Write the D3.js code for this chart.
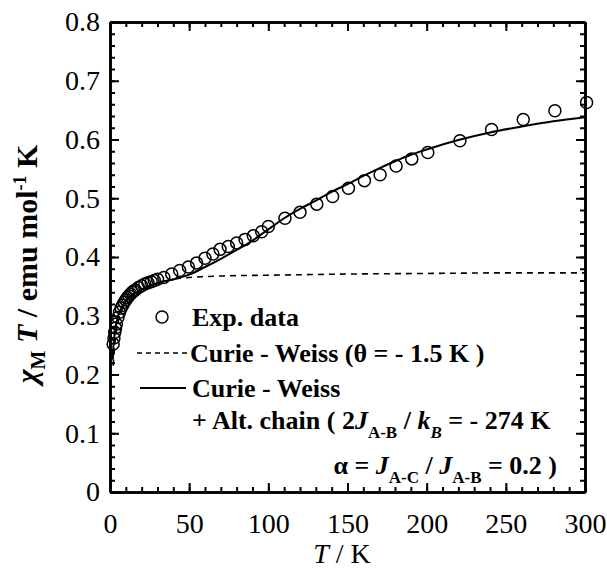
<!DOCTYPE html>
<html>
<head>
<meta charset="utf-8">
<script src="https://cdn.jsdelivr.net/npm/d3@7/dist/d3.min.js"></script>
</head>
<body style="margin:0">
<svg id="s" width="607" height="573" style="background:#fff"></svg>
<script>
// Measured chi_M T (emu mol^-1 K) versus temperature T (K)
const expT = [2, 2.5, 3, 3.5, 4, 5, 6, 7, 8, 9, 10, 11, 12, 13, 14, 15, 16, 18, 20, 22, 24, 26, 28, 30,
  34, 39, 44, 49.5, 54.7, 60, 65, 69.5, 74.7, 80, 85.3, 90.5, 95.8, 100,
  110.5, 120, 130.6, 140.6, 150.6, 160.7, 170.6, 180.7, 190.6, 200.7, 221, 241, 261, 281, 301];
const expChiT = [0.252, 0.262, 0.272, 0.279, 0.286, 0.297, 0.306, 0.313, 0.318, 0.323, 0.327, 0.331, 0.334, 0.337, 0.340, 0.342, 0.344, 0.348, 0.351, 0.354, 0.356, 0.358, 0.360, 0.362,
  0.365, 0.371, 0.377, 0.383, 0.390, 0.398, 0.405, 0.413, 0.418, 0.424, 0.430, 0.436, 0.443, 0.452,
  0.466, 0.476, 0.490, 0.503, 0.517, 0.530, 0.540, 0.555, 0.567, 0.578, 0.598, 0.617, 0.634, 0.649, 0.663];

// Curie-Weiss fit (theta = -1.5 K)
const cwT = [2, 3, 5, 10, 20, 30, 40, 50, 75, 100, 150, 200, 250, 300];
const cwChiT = [0.215, 0.250, 0.287, 0.322, 0.345, 0.355, 0.362, 0.365, 0.368, 0.369, 0.371, 0.372, 0.373, 0.373];

// Curie-Weiss + alternating chain fit
const fitT = [1.8, 2, 3, 4, 5, 6, 8, 10, 12, 15, 20, 25, 30, 40, 50, 60, 70, 80, 90, 100, 110, 120, 130,
  140, 150, 160, 170, 180, 190, 200, 220, 240, 260, 280, 300];
const fitChiT = [0.225, 0.240, 0.270, 0.287, 0.298, 0.306, 0.317, 0.325, 0.331, 0.337, 0.345, 0.351, 0.356, 0.362, 0.370, 0.383, 0.397, 0.412, 0.428, 0.447, 0.466, 0.482, 0.496,
  0.511, 0.524, 0.538, 0.551, 0.563, 0.574, 0.583, 0.599, 0.612, 0.622, 0.631, 0.638];

const xMajor = [0, 50, 100, 150, 200, 250, 300];
const xMinor = d3.range(0, 301, 10);
const yMajor = [0, 0.1, 0.2, 0.3, 0.4, 0.5, 0.6, 0.7, 0.8];
const yMinor = d3.range(0, 41).map(i => i * 0.02);

const svg = d3.select("#s");
const x = d3.scaleLinear().domain([0, 300]).range([110, 585]);
const y = d3.scaleLinear().domain([0, 0.8]).range([492, 22]);

const fmtY = d => d === 0 ? "0" : d3.format(".1f")(d);

// serif text helper
function serif(sel, size) {
  return sel.style("font-family", "'Liberation Serif'", "important").attr("font-size", size);
}

function styleAxis(g, width) {
  g.attr("font-family", null).attr("font-size", null);
  g.select(".domain").attr("stroke", "#000").attr("stroke-width", width);
  g.selectAll(".tick line").attr("stroke", "#000").attr("stroke-width", 2);
  g.selectAll(".tick text").attr("fill", "#000").call(serif, 28);
}

// Bottom axis
svg.append("g").attr("transform", `translate(0,${y(0)})`)
  .call(d3.axisBottom(x).tickValues(xMinor).tickFormat("").tickSizeInner(-5).tickSizeOuter(0))
  .call(g => styleAxis(g, 2.6));
svg.append("g").attr("transform", `translate(0,${y(0)})`)
  .call(d3.axisBottom(x).tickValues(xMajor).tickFormat(d3.format("d")).tickSizeInner(-9).tickSizeOuter(0).tickPadding(21))
  .call(g => styleAxis(g, 2.6));
// Top axis
svg.append("g").attr("transform", `translate(0,${y(0.8)})`)
  .call(d3.axisTop(x).tickValues(xMinor).tickFormat("").tickSizeInner(-5).tickSizeOuter(0))
  .call(g => styleAxis(g, 2.6));
svg.append("g").attr("transform", `translate(0,${y(0.8)})`)
  .call(d3.axisTop(x).tickValues(xMajor).tickFormat("").tickSizeInner(-9).tickSizeOuter(0))
  .call(g => styleAxis(g, 2.6));
// Left axis
svg.append("g").attr("transform", `translate(${x(0)},0)`)
  .call(d3.axisLeft(y).tickValues(yMinor).tickFormat("").tickSizeInner(-5).tickSizeOuter(0))
  .call(g => styleAxis(g, 2.6));
svg.append("g").attr("transform", `translate(${x(0)},0)`)
  .call(d3.axisLeft(y).tickValues(yMajor).tickFormat(fmtY).tickSizeInner(-9).tickSizeOuter(0).tickPadding(10))
  .call(g => styleAxis(g, 2.6));
// Right axis
svg.append("g").attr("transform", `translate(${x(300)},0)`)
  .call(d3.axisRight(y).tickValues(yMinor).tickFormat("").tickSizeInner(-5).tickSizeOuter(0))
  .call(g => styleAxis(g, 2.6));
svg.append("g").attr("transform", `translate(${x(300)},0)`)
  .call(d3.axisRight(y).tickValues(yMajor).tickFormat("").tickSizeInner(-9).tickSizeOuter(0))
  .call(g => styleAxis(g, 2.6));

// Axis titles
const xt = svg.append("text").attr("x", 342).attr("y", 563).attr("text-anchor", "middle").call(serif, 28);
xt.append("tspan").attr("font-style", "italic").text("T");
xt.append("tspan").text(" / K");

const yt = svg.append("text").attr("transform", "translate(37,264) rotate(-90)")
  .attr("text-anchor", "middle").call(serif, 30).attr("font-weight", "bold");
yt.append("tspan").attr("font-style", "italic").text("χ");
yt.append("tspan").attr("font-size", 20).attr("dy", 8).text("M");
yt.append("tspan").attr("dy", -8).attr("font-style", "italic").text(" T");
yt.append("tspan").text(" / emu mol");
yt.append("tspan").attr("font-size", 18).attr("dy", -11).text("-1");
yt.append("tspan").attr("dy", 11).text(" K");

// Curves
const line = d3.line().x(d => x(d[0])).y(d => y(d[1])).curve(d3.curveMonotoneX);
svg.append("path").datum(d3.zip(cwT, cwChiT)).attr("d", line)
  .attr("fill", "none").attr("stroke", "#000").attr("stroke-width", 1.6).attr("stroke-dasharray", "6,5");
svg.append("path").datum(d3.zip(fitT, fitChiT)).attr("d", line)
  .attr("fill", "none").attr("stroke", "#000").attr("stroke-width", 2);

// Experimental points
svg.append("g").selectAll("circle").data(d3.zip(expT, expChiT)).join("circle")
  .attr("cx", d => x(d[0])).attr("cy", d => y(d[1])).attr("r", 6)
  .attr("fill", "none").attr("stroke", "#000").attr("stroke-width", 1.5);

// Legend
const lg = svg.append("g");
const legendText = (xp, yp) => lg.append("text").attr("x", xp).attr("y", yp)
  .call(serif, 26).attr("font-weight", "bold");

lg.append("circle").attr("cx", 162).attr("cy", 317).attr("r", 6)
  .attr("fill", "none").attr("stroke", "#000").attr("stroke-width", 1.5);
legendText(192, 326).text("Exp. data");

lg.append("line").attr("x1", 137).attr("x2", 187).attr("y1", 353).attr("y2", 353)
  .attr("stroke", "#000").attr("stroke-width", 1.4).attr("stroke-dasharray", "5,4");
legendText(190, 362).text("Curie - Weiss (θ = - 1.5 K )");

lg.append("line").attr("x1", 140).attr("x2", 186).attr("y1", 388).attr("y2", 388)
  .attr("stroke", "#000").attr("stroke-width", 1.8);
legendText(192, 397).text("Curie - Weiss");

const l4 = legendText(192, 429);
l4.append("tspan").text("+  Alt. chain ( 2");
l4.append("tspan").attr("font-style", "italic").text("J");
l4.append("tspan").attr("font-size", 17).attr("dy", 9).text("A-B");
l4.append("tspan").attr("dy", -9).text(" / ");
l4.append("tspan").attr("font-style", "italic").text("k");
l4.append("tspan").attr("font-size", 17).attr("font-style", "italic").attr("dy", 9).text("B");
l4.append("tspan").attr("dy", -9).text(" = - 274 K");

const l5 = legendText(557, 474).attr("text-anchor", "end");
l5.append("tspan").text("α = ");
l5.append("tspan").attr("font-style", "italic").text("J");
l5.append("tspan").attr("font-size", 17).attr("dy", 9).text("A-C");
l5.append("tspan").attr("dy", -9).text(" / ");
l5.append("tspan").attr("font-style", "italic").text("J");
l5.append("tspan").attr("font-size", 17).attr("dy", 9).text("A-B");
l5.append("tspan").attr("dy", -9).text(" = 0.2 )");
</script>
</body>
</html>
